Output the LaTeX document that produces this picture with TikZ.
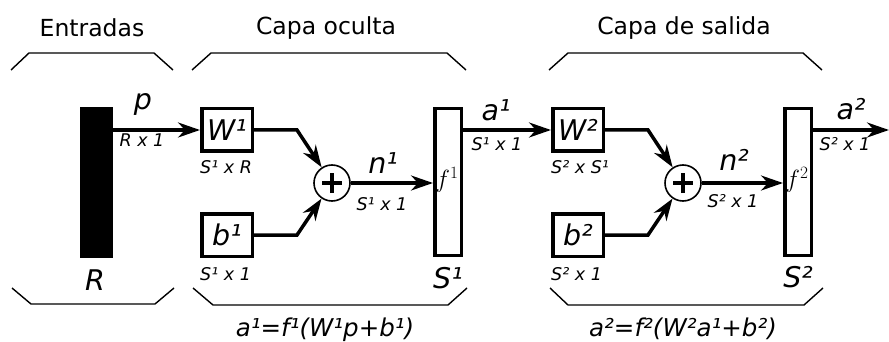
\documentclass[tikz,border=0pt]{standalone}
\usepackage{fontspec}
\setmainfont{DejaVu Sans}
\usetikzlibrary{arrows.meta}
\begin{document}
\begin{tikzpicture}[x=1pt,y=-1pt,
 title/.style={font=\fontsize{23.5}{24}\selectfont, inner sep=0},
 big/.style={font=\fontsize{28.5}{28}\selectfont\itshape, inner sep=0},
 dim/.style={font=\fontsize{17.5}{17}\selectfont\itshape, inner sep=0},
 fml/.style={font=\fontsize{24.5}{24}\selectfont\itshape, inner sep=0},
 fun/.style={font=\fontsize{23}{23}\selectfont, inner sep=0},
 box/.style={draw, line width=3.5pt, minimum width=50.5pt, minimum height=42.5pt, inner sep=0},
 tall/.style={draw, line width=3.5pt, minimum width=26.5pt, minimum height=146.5pt, inner sep=0},
 sumnode/.style={circle, draw, line width=1.6pt, minimum size=36pt, inner sep=0},
 arr/.style={line width=3.5pt, -{Stealth[length=22pt,width=15pt]}},
 brk/.style={line width=1.4pt},
 plus/.style={line width=3.5pt}]
\useasboundingbox (0,0) rectangle (889,342);

% titles
\node[title] (tin) at (92,28) {Entradas};
\node[title] (thid) at (326,28) {Capa oculta};
\node[title] (tout) at (684,28) {Capa de salida};

% top brackets
\draw[brk] (11,70) -- (29,53) -- (154,53) -- (173,70);
\draw[brk] (192,70) -- (211,53) -- (447,53) -- (466,70);
\draw[brk] (549,70) -- (568,53) -- (803,53) -- (822,70);
% bottom brackets
\draw[brk] (12,288) -- (31,304) -- (155,304) -- (174,288);
\draw[brk] (193,288) -- (213,305) -- (448,305) -- (467,288);
\draw[brk] (550,288) -- (568,305) -- (804,305) -- (823,288);

% input bar
\node[fill=black, minimum width=33pt, minimum height=151pt, inner sep=0] (bar) at (96.5,182.5) {};
\node[big, anchor=base] (lR) at (95,290) {R};

% layer 1
\node[box, big] (W1) at (227,130) {W¹};
\node[box, big] (b1) at (227,235) {b¹};
\node[sumnode] (s1) at (332,183) {};
\draw[plus] ([xshift=-10pt]s1.center) -- ([xshift=10pt]s1.center);
\draw[plus] ([yshift=-10pt]s1.center) -- ([yshift=10pt]s1.center);
\node[tall] (f1) at (448,182) {};
\node[fun] (lf1) at (447,180) {$f^1$};
\node[big, anchor=base] (lS1) at (448,288) {S¹};

% layer 2
\node[box, big] (W2) at (578,130) {W²};
\node[box, big] (b2) at (578,235) {b²};
\node[sumnode] (s2) at (683,183) {};
\draw[plus] ([xshift=-10pt]s2.center) -- ([xshift=10pt]s2.center);
\draw[plus] ([yshift=-10pt]s2.center) -- ([yshift=10pt]s2.center);
\node[tall] (f2) at (798,182) {};
\node[fun] (lf2) at (797,180) {$f^2$};
\node[big, anchor=base] (lS2) at (798,287) {S²};
\coordinate (out) at (889,130);

% connectors
\draw[arr] (bar.east |- W1.west) -- (W1.west);
\draw[arr] (W1.east) -- ++(43,0) -- (s1);
\draw[arr] (b1.east) -- ++(43,0) -- (s1);
\draw[arr] (s1.east) -- (s1.east -| f1.west);
\draw[arr] (f1.east |- W2.west) -- (W2.west);
\draw[arr] (W2.east) -- ++(43,0) -- (s2);
\draw[arr] (b2.east) -- ++(43,0) -- (s2);
\draw[arr] (s2.east) -- (s2.east -| f2.west);
\draw[arr] (f2.east |- W2.west) -- (out);

% labels layer 1
\node[big, anchor=base] (lp) at (143,110) {p};
\node[dim, anchor=base] (dp) at (142,147) {R x 1};
\node[dim, anchor=base west] (dW1) at (200,173) {S¹ x R};
\node[dim, anchor=base west] (db1) at (200,280) {S¹ x 1};
\node[big, anchor=base] (ln1) at (383,173) {n¹};
\node[dim, anchor=base] (dn1) at (382,211) {S¹ x 1};
\node[big, anchor=base] (la1) at (496,121) {a¹};
\node[dim, anchor=base] (da1) at (497,150) {S¹ x 1};

% labels layer 2
\node[dim, anchor=base west] (dW2) at (551,173) {S² x S¹};
\node[dim, anchor=base west] (db2) at (551,280) {S² x 1};
\node[big, anchor=base] (ln2) at (734,171) {n²};
\node[dim, anchor=base] (dn2) at (733,207) {S² x 1};
\node[big, anchor=base] (la2) at (851,120) {a²};
\node[dim, anchor=base] (da2) at (845,150) {S² x 1};

% formulas
\node[fml, anchor=base] (fm1) at (325,336) {a¹=f¹(W¹p+b¹)};
\node[fml, anchor=base] (fm2) at (683,336) {a²=f²(W²a¹+b²)};
\end{tikzpicture}
\end{document}
